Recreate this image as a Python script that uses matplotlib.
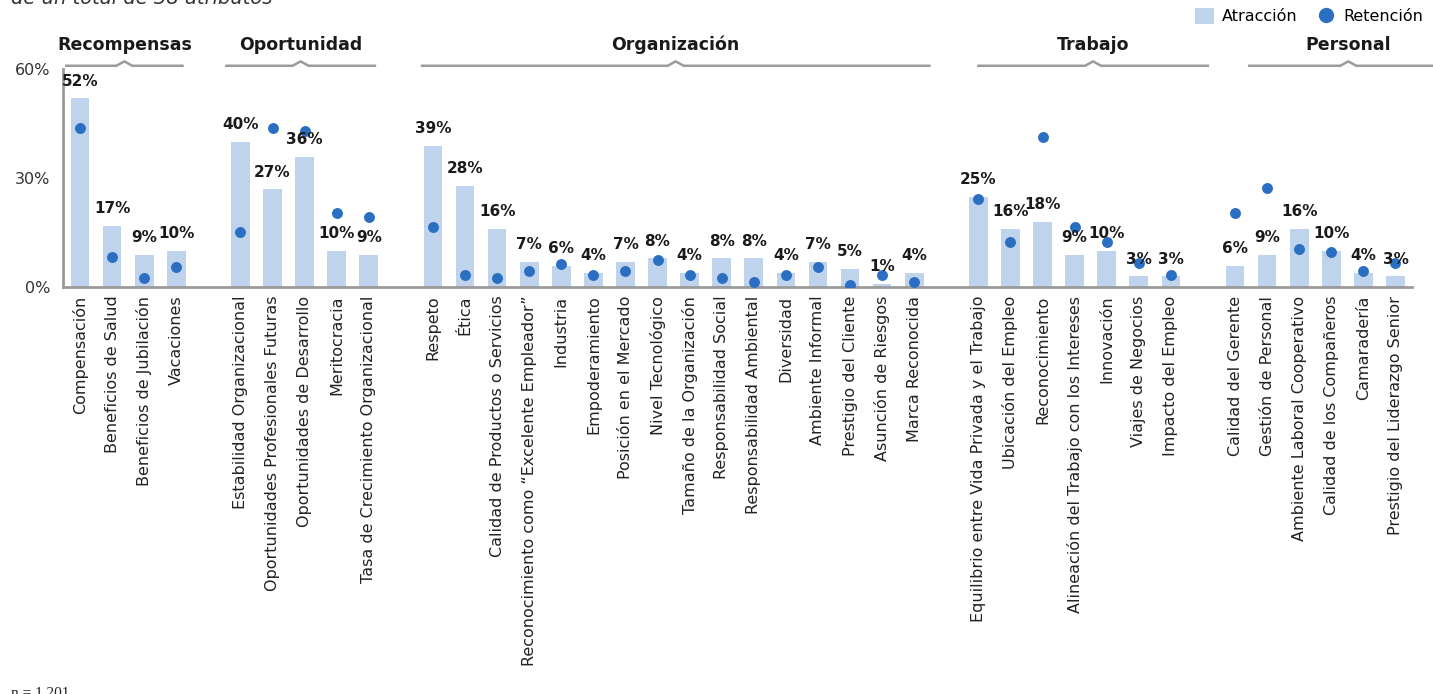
import matplotlib.pyplot as plt
from matplotlib.patches import Patch
from matplotlib.lines import Line2D

# Grupos de atributos y sus etiquetas
grupos = ["Recompensas", "Oportunidad", "Organización", "Trabajo", "Personal"]

atributos_recompensas = ["Compensación", "Beneficios de Salud", "Beneficios de Jubilación", "Vacaciones"]
atributos_oportunidad = ["Estabilidad Organizacional", "Oportunidades Profesionales Futuras",
                         "Oportunidades de Desarrollo", "Meritocracia",
                         "Tasa de Crecimiento Organizacional"]
atributos_organizacion = ["Respeto", "Ética", "Calidad de Productos o Servicios",
                          "Reconocimiento como “Excelente Empleador”", "Industria",
                          "Empoderamiento", "Posición en el Mercado", "Nivel Tecnológico",
                          "Tamaño de la Organización", "Responsabilidad Social",
                          "Responsabilidad Ambiental", "Diversidad", "Ambiente Informal",
                          "Prestigio del Cliente", "Asunción de Riesgos", "Marca Reconocida"]
atributos_trabajo = ["Equilibrio entre Vida Privada y el Trabajo", "Ubicación del Empleo",
                     "Reconocimiento", "Alineación del Trabajo con los Intereses",
                     "Innovación", "Viajes de Negocios", "Impacto del Empleo"]
atributos_personal = ["Calidad del Gerente", "Gestión de Personal", "Ambiente Laboral Cooperativo",
                      "Calidad de los Compañeros", "Camaradería", "Prestigio del Liderazgo Senior"]

# Atracción (%) por grupo
atraccion_recompensas = [52, 17, 9, 10]
atraccion_oportunidad = [40, 27, 36, 10, 9]
atraccion_organizacion = [39, 28, 16, 7, 6, 4, 7, 8, 4, 8, 8, 4, 7, 5, 1, 4]
atraccion_trabajo = [25, 16, 18, 9, 10, 3, 3]
atraccion_personal = [6, 9, 16, 10, 4, 3]

# Retención (%) por grupo
retencion_recompensas = [44, 8.3, 2.5, 5.5]
retencion_oportunidad = [15.2, 44, 43, 20.4, 19.4]
retencion_organizacion = [16.5, 3.4, 2.5, 4.5, 6.5, 3.4, 4.5, 7.6, 3.4, 2.5, 1.6, 3.4, 5.5, 0.7, 3.4, 1.6]
retencion_trabajo = [24.4, 12.5, 41.4, 16.6, 12.5, 6.7, 3.5]
retencion_personal = [20.5, 27.4, 10.5, 9.7, 4.6, 6.7]

atributos = [atributos_recompensas, atributos_oportunidad, atributos_organizacion,
             atributos_trabajo, atributos_personal]
atraccion = [atraccion_recompensas, atraccion_oportunidad, atraccion_organizacion,
             atraccion_trabajo, atraccion_personal]
retencion = [retencion_recompensas, retencion_oportunidad, retencion_organizacion,
             retencion_trabajo, retencion_personal]

# Extremos de cada llave respecto a la primera y última barra del grupo
llave_izq = [-0.43, -0.44, -0.34, 0.0, 0.44]
llave_der = [0.19, 0.19, 0.47, 1.15, 1.62]

color_barra = "#bfd4ec"
color_punto = "#2b6fc2"
color_linea = "#9a9a9a"

plt.rcParams["font.family"] = ["DejaVu Sans"]

fig = plt.figure(figsize=(14.33, 6.94), dpi=100)
ax = fig.add_axes([0.044, 0.586, 0.941, 0.314])

# Posiciones: un hueco entre cada grupo
xs_grupos = []
pos = 0
for lista in atributos:
    xs_grupos.append(list(range(pos, pos + len(lista))))
    pos += len(lista) + 1

todas_x = []
todas_etiquetas = []
for i in range(len(grupos)):
    xs = xs_grupos[i]
    ax.bar(xs, atraccion[i], width=0.58, color=color_barra, zorder=1)
    ax.scatter(xs, retencion[i], s=62, color=color_punto, zorder=3, linewidths=0)
    for x, v in zip(xs, atraccion[i]):
        ax.annotate(f"{v}%", (x, v), xytext=(0, 7), textcoords="offset points",
                    ha="center", va="bottom", fontsize=11, fontweight="bold",
                    color="#1a1a1a", zorder=4)
    todas_x += xs
    todas_etiquetas += atributos[i]

    # Llave del grupo con el pico en el centro
    x0 = xs[0] + llave_izq[i]
    x1 = xs[-1] + llave_der[i]
    xm = (x0 + x1) / 2
    ax.plot([x0, xm - 0.25, xm, xm + 0.25, x1], [61, 61, 62.2, 61, 61],
            color=color_linea, lw=1.8, clip_on=False, solid_joinstyle="miter")
    ax.text(xm, 66.7, grupos[i], ha="center", va="center", fontsize=12.5,
            fontweight="bold", color="#1a1a1a")

ax.set_xlim(-0.53, 41.5)
ax.set_ylim(0, 60)
ax.set_yticks([0, 30, 60])
ax.set_yticklabels(["0%", "30%", "60%"], fontsize=11.5, color="#333333")
ax.set_xticks(todas_x)
ax.set_xticklabels(todas_etiquetas, rotation=90, fontsize=11.5, color="#222222")
ax.tick_params(axis="y", length=0, pad=9)
ax.tick_params(axis="x", length=0, pad=6)

for lado in ["top", "right"]:
    ax.spines[lado].set_visible(False)
for lado in ["left", "bottom"]:
    ax.spines[lado].set_color(color_linea)
    ax.spines[lado].set_linewidth(2)

# Leyenda
handles = [Patch(facecolor=color_barra, label="Atracción"),
           Line2D([], [], marker="o", linestyle="", markersize=11,
                  markerfacecolor=color_punto, markeredgewidth=0, label="Retención")]
fig.legend(handles=handles, loc="center right", bbox_to_anchor=(0.998, 1 - 16 / 694),
           ncol=2, frameon=False, fontsize=11.5, handlelength=1.2, handleheight=1.2,
           handletextpad=0.5, columnspacing=1.2, borderaxespad=0.0)

fig.text(0.008, 1 - 4 / 694, "de un total de 38 atributos", fontsize=14, style="italic",
         color="#333333", va="baseline")
fig.text(0.008, -3 / 694, "n = 1.201", fontsize=11, family="Liberation Serif",
         color="#222222", va="baseline")

plt.savefig("out.png", dpi=100)
